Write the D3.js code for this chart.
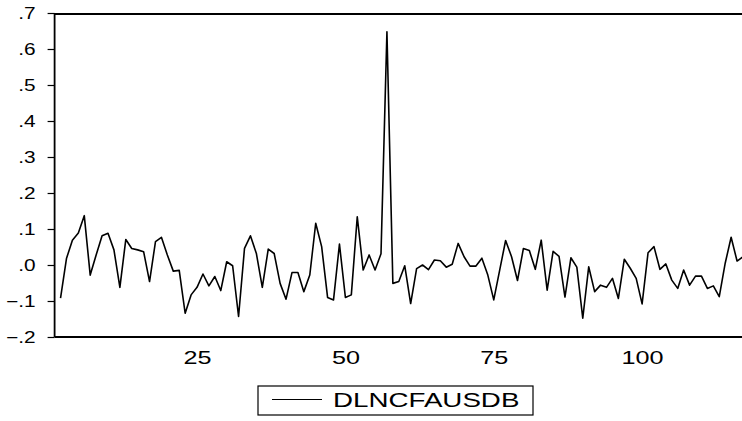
<!DOCTYPE html>
<html>
<head>
<meta charset="utf-8">
<script src="https://cdn.jsdelivr.net/npm/d3@7"></script>
<style>
  body { margin: 0; background: #fff; }
  svg { display: block; }
  text { font-family: "Liberation Sans", Arial, sans-serif; fill: #000; }
</style>
</head>
<body>
<svg id="chart"></svg>
<script>
// observation 1 is missing (first difference)
const seriesName = "DLNCFAUSDB";
const firstObs = 1;
const lastObs = 117;
const dlncfausdb = [
  null,
  -0.092, 0.018, 0.069, 0.089, 0.137, -0.028, 0.028, 0.081, 0.088, 0.042,
  -0.062, 0.071, 0.046, 0.042, 0.037, -0.046, 0.065, 0.077, 0.028, -0.017,
  -0.015, -0.134, -0.083, -0.062, -0.025, -0.058, -0.032, -0.071, 0.009, -0.002,
  -0.143, 0.046, 0.081, 0.032, -0.062, 0.044, 0.032, -0.051, -0.095, -0.021,
  -0.021, -0.074, -0.028, 0.116, 0.051, -0.090, -0.097, 0.058, -0.090, -0.083,
  0.134, -0.014, 0.028, -0.014, 0.031, 0.648, -0.051, -0.046, -0.002, -0.107,
  -0.010, 0.000, -0.013, 0.014, 0.012, -0.006, 0.002, 0.060, 0.023, -0.003,
  -0.003, 0.019, -0.028, -0.097, -0.014, 0.068, 0.023, -0.043, 0.046, 0.040,
  -0.012, 0.069, -0.070, 0.038, 0.024, -0.089, 0.020, -0.006, -0.148, -0.005,
  -0.074, -0.056, -0.062, -0.037, -0.093, 0.016, -0.009, -0.037, -0.108, 0.034,
  0.051, -0.012, 0.003, -0.042, -0.065, -0.014, -0.056, -0.031, -0.031, -0.065,
  -0.058, -0.088, 0.005, 0.077, 0.011, 0.023
];
const xTicks = [25, 50, 75, 100];
const yTicks = [-0.2, -0.1, 0.0, 0.1, 0.2, 0.3, 0.4, 0.5, 0.6, 0.7];

const config = {
  width: 742,
  height: 421,
  margin: {top: 13, right: -1, bottom: 84, left: 54.6}
};

const data = dlncfausdb.map((v, i) => ({x: firstObs + i, y: v}));

const svg = d3.select('#chart')
    .attr('width', config.width)
    .attr('height', config.height);

const innerW = config.width - config.margin.left - config.margin.right;
const innerH = config.height - config.margin.top - config.margin.bottom;

const xScale = d3.scaleLinear()
    .domain([firstObs, lastObs])
    .range([0, innerW]);

const yScale = d3.scaleLinear()
    .domain([-0.2, 0.7])
    .range([innerH, 0]);

const chart = svg.append('g')
    .attr('transform', `translate(${config.margin.left},${config.margin.top})`);

// frame: top line heavy, left and bottom axes
chart.append('line')
    .attr('x1', 0).attr('x2', innerW)
    .attr('y1', 1).attr('y2', 1)
    .attr('stroke', '#000').attr('stroke-width', 2.2);

const yAxis = d3.axisLeft(yScale)
    .tickValues(yTicks)
    .tickSize(7)
    .tickPadding(12)
    .tickFormat(d => d3.format('.1f')(d).replace('0.', '.'));

const xAxis = d3.axisBottom(xScale)
    .tickValues(xTicks)
    .tickSize(0)
    .tickPadding(14)
    .tickFormat(d3.format('d'));

const yAxisG = chart.append('g').call(yAxis);
const xAxisG = chart.append('g')
    .attr('transform', `translate(0,${innerH})`)
    .call(xAxis);

[yAxisG, xAxisG].forEach(g => {
  g.select('.domain').attr('stroke', '#000').attr('stroke-width', 1.8);
  g.selectAll('.tick line').attr('stroke', '#000').attr('stroke-width', 1.2);
  g.selectAll('.tick text')
    .style('font-family', '"Liberation Sans", Arial, sans-serif')
    .attr('fill', '#000');
});
yAxisG.selectAll('.tick text').style('font-size', '16px');
xAxisG.selectAll('.tick text').style('font-size', '18px');
yAxisG.select('.domain').attr('d', `M0,${innerH}V0`);
xAxisG.select('.domain').attr('d', `M0,0H${innerW}`);

const line = d3.line()
    .defined(d => d.y !== null)
    .x(d => xScale(d.x))
    .y(d => yScale(d.y));

chart.append('path')
    .datum(data)
    .attr('fill', 'none')
    .attr('stroke', '#000')
    .attr('stroke-width', 1.6)
    .attr('stroke-linejoin', 'round')
    .attr('d', line);

// legend
const legend = svg.append('g').attr('transform', 'translate(258,386)');
legend.append('rect')
    .attr('width', 275).attr('height', 29)
    .attr('fill', 'none').attr('stroke', '#000').attr('stroke-width', 1.2);
legend.append('line')
    .attr('x1', 14).attr('x2', 64)
    .attr('y1', 13.5).attr('y2', 13.5)
    .attr('stroke', '#000').attr('stroke-width', 1.2);
const legendText = legend.append('text')
    .attr('x', 75).attr('y', 21)
    .style('font-size', '21px')
    .text(seriesName);

// widen labels to match the print
function stretch(sel, k) {
  sel.each(function() {
    const len = this.getComputedTextLength();
    d3.select(this)
      .attr('textLength', len * k)
      .attr('lengthAdjust', 'spacingAndGlyphs');
  });
}
stretch(yAxisG.selectAll('.tick text'), 1.3);
stretch(xAxisG.selectAll('.tick text'), 1.4);
stretch(legendText, 1.32);
</script>
</body>
</html>
